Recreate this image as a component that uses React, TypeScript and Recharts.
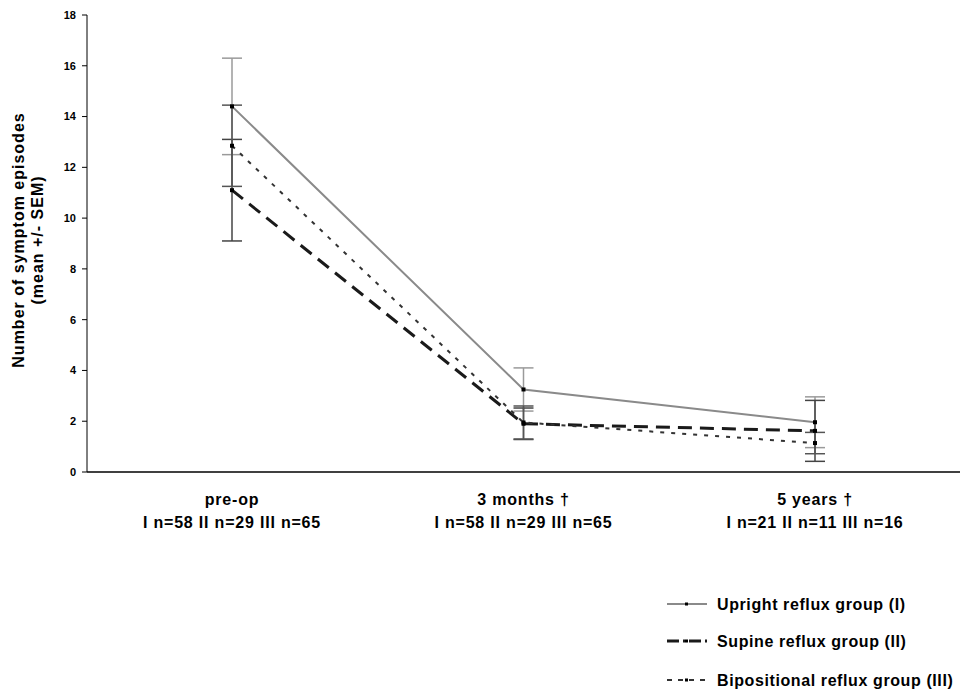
import { ErrorBar, Line, LineChart, XAxis, YAxis } from "recharts";

const categories = ["pre-op", "3 months †", "5 years †"];
const groupSizes = ["I n=58 II n=29 III n=65", "I n=58 II n=29 III n=65", "I n=21 II n=11 III n=16"];

const upright = [14.4, 3.25, 1.96];
const uprightSem = [1.9, 0.85, 1.0];
const supine = [11.1, 1.9, 1.62];
const supineSem = [2.0, 0.62, 1.2];
const bipositional = [12.85, 1.95, 1.14];
const bipositionalSem = [1.6, 0.65, 0.42];

const yTicks = [0, 2, 4, 6, 8, 10, 12, 14, 16, 18];

const data = categories.map((name, i) => ({
  name,
  upright: upright[i],
  uprightSem: uprightSem[i],
  supine: supine[i],
  supineSem: supineSem[i],
  bipositional: bipositional[i],
  bipositionalSem: bipositionalSem[i]
}));

const font = '"Liberation Sans", Arial, sans-serif';

const series = [
  { key: "upright", label: "Upright reflux group (I)", color: "#8a8a8a", width: 2, dash: undefined, legendDash: undefined, err: "#9a9a9a" },
  { key: "supine", label: "Supine reflux group (II)", color: "#1a1a1a", width: 3, dash: "14 8", legendDash: "12 4 2 4", err: "#444" },
  { key: "bipositional", label: "Bipositional reflux group (III)", color: "#333", width: 2, dash: "4 7", legendDash: "5 6", err: "#555" }
];

function Marker(props: any) {
  const { cx, cy } = props;
  if (cx == null || cy == null) return null;
  return <rect x={cx - 2} y={cy - 2} width={4} height={4} fill="#000" />;
}

function CategoryTick(props: any) {
  const { x, y, payload } = props;
  const idx = categories.indexOf(payload.value);
  return (
    <g fontFamily={font} fontWeight="bold" fontSize={16} letterSpacing={0.8} fill="#000">
      <text x={x} y={y + 33} textAnchor="middle">{payload.value}</text>
      <text x={x} y={y + 56} textAnchor="middle">{groupSizes[idx]}</text>
    </g>
  );
}

function AxisTitle() {
  return (
    <g fontFamily={font} fontWeight="bold" fontSize={16} letterSpacing={1} fill="#000">
      <text transform="translate(24, 240) rotate(-90)" textAnchor="middle">Number of symptom episodes</text>
      <text transform="translate(43, 240) rotate(-90)" textAnchor="middle">(mean +/- SEM)</text>
    </g>
  );
}

function LegendBox() {
  const rows = [604, 641, 680];
  return (
    <svg width={300} height={110} style={{ position: "absolute", left: 660, top: 585 }}>
      {series.map((s, i) => {
        const y = rows[i] - 585;
        return (
          <g key={s.key}>
            <line x1={7} x2={47} y1={y} y2={y} stroke={s.color} strokeWidth={s.width} strokeDasharray={s.legendDash} />
            <rect x={25} y={y - 1.5} width={3} height={3} fill="#000" />
            <text x={57} y={y + 6} fontFamily={font} fontWeight="bold" fontSize={16} letterSpacing={0.6} fill="#000">
              {s.label}
            </text>
          </g>
        );
      })}
    </svg>
  );
}

export default function App() {
  return (
    <div style={{ position: "absolute", left: 0, top: 0, width: 971, height: 699, background: "#fff" }}>
      <LineChart width={971} height={699} data={data} margin={{ top: 15, right: 11, left: 0, bottom: 167 }}>
        <XAxis
          dataKey="name"
          height={60}
          padding={{ left: 145, right: 145 }}
          tickLine={false}
          tickSize={0}
          tickMargin={0}
          tick={<CategoryTick />}
          stroke="#000"
          strokeWidth={1.5}
          interval={0}
        />
        <YAxis
          width={87}
          domain={[0, 18]}
          ticks={yTicks}
          tickSize={5}
          tickMargin={6}
          stroke="#000"
          strokeWidth={1}
          tick={{ fontFamily: font, fontWeight: "bold", fontSize: 11, fill: "#000" }}
          label={<AxisTitle />}
        />
        {series.map((s) => (
          <Line
            key={s.key}
            dataKey={s.key}
            stroke={s.color}
            strokeWidth={s.width}
            strokeDasharray={s.dash}
            dot={<Marker />}
            activeDot={false}
            isAnimationActive={false}
          >
            <ErrorBar dataKey={`${s.key}Sem`} width={10} stroke={s.err} strokeWidth={1.5} />
          </Line>
        ))}
      </LineChart>
      <LegendBox />
    </div>
  );
}
